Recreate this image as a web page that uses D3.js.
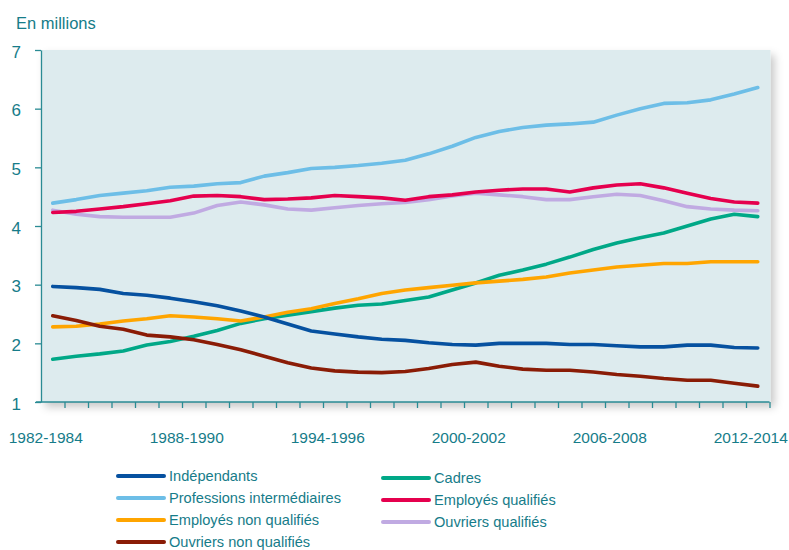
<!DOCTYPE html>
<html lang="fr">
<head>
<meta charset="UTF-8">
<title>Emploi par catégorie</title>
<script src="https://d3js.org/d3.v7.min.js"></script>
<style>
    body { margin: 0; background: #fff; font-family: "Liberation Sans", Arial, sans-serif; }
    .axis text { fill: #167c89; }
    .axis path, .axis line { stroke: #2a8b94; stroke-width: 1.3px; }
</style>
</head>
<body>
<svg width="789" height="550"></svg>
<script>
// periods (3-year rolling averages), one per year
const periods = d3.range(1982, 2013).map(y => y + "-" + (y + 2));
const labelPeriods = ["1982-1984", "1988-1990", "1994-1996", "2000-2002", "2006-2008", "2012-2014"];
const yTicks = [1, 2, 3, 4, 5, 6, 7];

// values in millions
const independants = [2.97, 2.95, 2.92, 2.85, 2.82, 2.77, 2.71, 2.64, 2.55, 2.45, 2.33, 2.21, 2.16, 2.11, 2.07, 2.05,
    2.01, 1.98, 1.97, 2.00, 2.00, 2.00, 1.98, 1.98, 1.96, 1.94, 1.94, 1.97, 1.97, 1.93, 1.92];
const professionsInter = [4.39, 4.45, 4.52, 4.56, 4.60, 4.66, 4.68, 4.72, 4.74, 4.85, 4.91, 4.98, 5.00, 5.03, 5.07, 5.12,
    5.23, 5.36, 5.51, 5.61, 5.68, 5.72, 5.74, 5.77, 5.89, 6.00, 6.09, 6.10, 6.15, 6.25, 6.36];
const employesNonQual = [2.28, 2.29, 2.33, 2.38, 2.42, 2.47, 2.45, 2.42, 2.38, 2.45, 2.53, 2.59, 2.68, 2.76, 2.85, 2.91,
    2.95, 2.99, 3.03, 3.06, 3.09, 3.13, 3.20, 3.25, 3.30, 3.33, 3.36, 3.36, 3.39, 3.39, 3.39];
const ouvriersNonQual = [2.47, 2.39, 2.29, 2.24, 2.14, 2.11, 2.06, 1.98, 1.89, 1.78, 1.67, 1.58, 1.53, 1.51, 1.50, 1.52,
    1.57, 1.64, 1.68, 1.61, 1.56, 1.54, 1.54, 1.51, 1.47, 1.44, 1.40, 1.37, 1.37, 1.32, 1.27];
const cadres = [1.73, 1.78, 1.82, 1.87, 1.97, 2.03, 2.12, 2.22, 2.34, 2.42, 2.48, 2.54, 2.60, 2.65, 2.67, 2.73,
    2.79, 2.91, 3.03, 3.16, 3.25, 3.35, 3.47, 3.60, 3.71, 3.80, 3.88, 4.00, 4.12, 4.20, 4.16];
const employesQual = [4.23, 4.25, 4.29, 4.33, 4.38, 4.43, 4.51, 4.52, 4.50, 4.45, 4.46, 4.48, 4.52, 4.50, 4.48, 4.44,
    4.50, 4.53, 4.58, 4.61, 4.63, 4.63, 4.58, 4.65, 4.70, 4.72, 4.65, 4.56, 4.47, 4.41, 4.39];
const ouvriersQual = [4.27, 4.20, 4.16, 4.15, 4.15, 4.15, 4.22, 4.35, 4.41, 4.36, 4.29, 4.27, 4.31, 4.35, 4.38, 4.40,
    4.45, 4.51, 4.56, 4.53, 4.50, 4.45, 4.45, 4.50, 4.54, 4.52, 4.43, 4.33, 4.29, 4.27, 4.26];

const series = [
    { name: "Indépendants", values: independants, color: "#0651a0" },
    { name: "Professions intermédiaires", values: professionsInter, color: "#6dbee7" },
    { name: "Employés non qualifiés", values: employesNonQual, color: "#ffa500" },
    { name: "Ouvriers non qualifiés", values: ouvriersNonQual, color: "#8a1c06" },
    { name: "Cadres", values: cadres, color: "#00a887" },
    { name: "Employés qualifiés", values: employesQual, color: "#e5004e" },
    { name: "Ouvriers qualifiés", values: ouvriersQual, color: "#c0aae2" }
];

const svg = d3.select("svg");
const plotLeft = 41, plotRight = 769.5, plotTop = 50, plotBottom = 402;

const x = d3.scaleBand().domain(periods).range([plotLeft, plotRight]);
const xEdge = d3.scaleLinear().domain([0, periods.length]).range([plotLeft, plotRight]);
const y = d3.scaleLinear().domain([1, 7]).range([plotBottom, plotTop]);

// shadow behind the plot area
const defs = svg.append("defs");
defs.append("filter").attr("id", "shadow")
    .attr("x", "-5%").attr("y", "-5%").attr("width", "115%").attr("height", "120%")
    .append("feDropShadow")
    .attr("dx", 4).attr("dy", 5).attr("stdDeviation", 4)
    .attr("flood-color", "#000").attr("flood-opacity", 0.22);

svg.append("rect")
    .attr("x", plotLeft).attr("y", plotTop)
    .attr("width", plotRight - plotLeft + 1).attr("height", plotBottom - plotTop)
    .attr("fill", "#ddebee")
    .attr("filter", "url(#shadow)");

svg.append("text")
    .attr("x", 16).attr("y", 29)
    .attr("fill", "#167c89")
    .style("font-size", "16.5px")
    .text("En millions");

// y axis
const yAxis = svg.append("g").attr("class", "axis")
    .attr("transform", `translate(${plotLeft},0)`)
    .call(d3.axisLeft(y).tickValues(yTicks).tickFormat(d3.format("d"))
        .tickSize(6).tickSizeOuter(0).tickPadding(14));
yAxis.selectAll("text").style("font-size", "17px").attr("dy", "0.42em");

// x axis: ticks on the band edges
svg.append("g").attr("class", "axis")
    .attr("transform", `translate(0,${plotBottom})`)
    .call(d3.axisBottom(xEdge).tickValues(d3.range(1, periods.length + 1))
        .tickSize(6).tickSizeOuter(0).tickFormat(""))
    .select(".domain").attr("d", `M${plotLeft - 5},0H${plotRight}`);

svg.append("g").attr("class", "axis")
    .selectAll("text")
    .data(labelPeriods)
    .join("text")
    .attr("x", d => x(d) + x.bandwidth() / 2 - 7)
    .attr("y", 443)
    .attr("text-anchor", "middle")
    .style("font-size", "15.5px")
    .text(d => d);

// lines
const line = d3.line()
    .x((d, i) => x(periods[i]) + x.bandwidth() / 2)
    .y(d => y(d));

const drawOrder = [4, 6, 5, 1, 2, 3, 0];
svg.append("g")
    .selectAll("path")
    .data(drawOrder.map(i => series[i]))
    .join("path")
    .attr("d", d => line(d.values))
    .attr("fill", "none")
    .attr("stroke", d => d.color)
    .attr("stroke-width", 3.6)
    .attr("stroke-linejoin", "round")
    .attr("stroke-linecap", "round");

// legend, two columns
const legendPos = [
    [118, 476], [118, 498], [118, 520], [118, 542],
    [383, 478], [383, 500], [383, 522]
];
const legend = svg.append("g")
    .selectAll("g")
    .data(series)
    .join("g")
    .attr("transform", (d, i) => `translate(${legendPos[i][0]},${legendPos[i][1]})`);

legend.append("line")
    .attr("x1", 0).attr("x2", 46)
    .attr("stroke", d => d.color)
    .attr("stroke-width", 4)
    .attr("stroke-linecap", "round");

legend.append("text")
    .attr("x", 51).attr("dy", "0.36em")
    .attr("fill", "#167c89")
    .style("font-size", "14.6px")
    .text(d => d.name);
</script>
</body>
</html>
